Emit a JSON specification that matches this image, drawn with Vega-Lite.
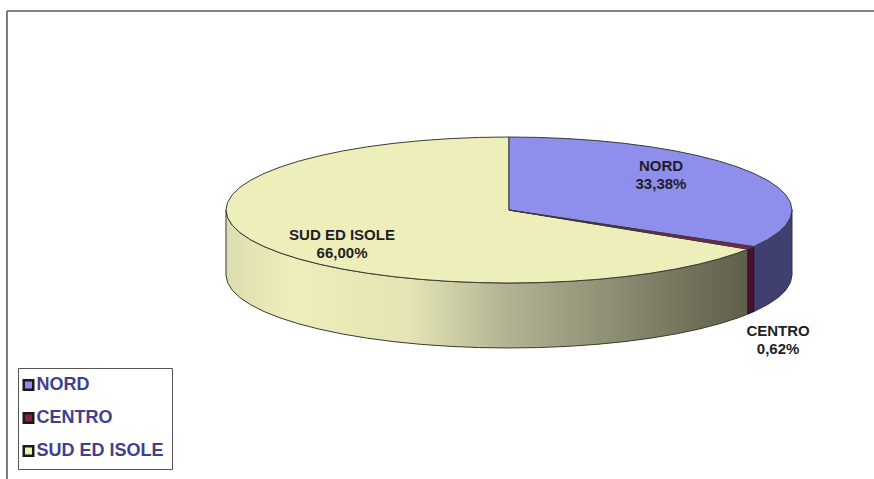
{
"$schema":"https://vega.github.io/schema/vega-lite/v6.json",
"width":874,"height":479,"padding":0,"autosize":{"type":"none"},
"background":"white",
"config":{"view":{"stroke":null}},
"datasets":{
"frame":[{"x":-1.774,"x2":1.29,"y":2.726,"y2":2.726},{"x":-1.774,"x2":-1.774,"y":2.726,"y2":-3.685}],
"walls":[
{"part":"NORD","x":1,"y":0,"y2":-0.89},{"part":"NORD","x":0.9945,"y":-0.1045,"y2":-0.9945},{"part":"NORD","x":0.9781,"y":-0.2079,"y2":-1.0979},{"part":"NORD","x":0.9511,"y":-0.309,"y2":-1.199},{"part":"NORD","x":0.9135,"y":-0.4067,"y2":-1.2967},{"part":"NORD","x":0.866,"y":-0.5,"y2":-1.39},{"part":"NORD","x":0.8645,"y":-0.5025,"y2":-1.3925},
{"part":"CENTRO","x":0.8645,"y":-0.5025,"y2":-1.3925},{"part":"CENTRO","x":0.8443,"y":-0.5358,"y2":-1.4258},
{"part":"SUD","x":0.8443,"y":-0.5358,"y2":-1.4258},{"part":"SUD","x":0.809,"y":-0.5878,"y2":-1.4778},{"part":"SUD","x":0.7431,"y":-0.6691,"y2":-1.5591},{"part":"SUD","x":0.6691,"y":-0.7431,"y2":-1.6331},{"part":"SUD","x":0.5878,"y":-0.809,"y2":-1.699},{"part":"SUD","x":0.5,"y":-0.866,"y2":-1.756},{"part":"SUD","x":0.4067,"y":-0.9135,"y2":-1.8035},{"part":"SUD","x":0.309,"y":-0.9511,"y2":-1.8411},{"part":"SUD","x":0.2079,"y":-0.9781,"y2":-1.8681},{"part":"SUD","x":0.1045,"y":-0.9945,"y2":-1.8845},{"part":"SUD","x":0,"y":-1,"y2":-1.89},{"part":"SUD","x":-0.1045,"y":-0.9945,"y2":-1.8845},{"part":"SUD","x":-0.2079,"y":-0.9781,"y2":-1.8681},{"part":"SUD","x":-0.309,"y":-0.9511,"y2":-1.8411},{"part":"SUD","x":-0.4067,"y":-0.9135,"y2":-1.8035},{"part":"SUD","x":-0.5,"y":-0.866,"y2":-1.756},{"part":"SUD","x":-0.5878,"y":-0.809,"y2":-1.699},{"part":"SUD","x":-0.6691,"y":-0.7431,"y2":-1.6331},{"part":"SUD","x":-0.7431,"y":-0.6691,"y2":-1.5591},{"part":"SUD","x":-0.809,"y":-0.5878,"y2":-1.4778},{"part":"SUD","x":-0.866,"y":-0.5,"y2":-1.39},{"part":"SUD","x":-0.9135,"y":-0.4067,"y2":-1.2967},{"part":"SUD","x":-0.9511,"y":-0.309,"y2":-1.199},{"part":"SUD","x":-0.9781,"y":-0.2079,"y2":-1.0979},{"part":"SUD","x":-0.9945,"y":-0.1045,"y2":-0.9945},{"part":"SUD","x":-1,"y":0,"y2":-0.89}
],
"faces":[
{"name":"SUD ED ISOLE","i":0,"x":0,"y":0},{"name":"SUD ED ISOLE","i":1,"x":0.8443,"y":-0.5358},{"name":"SUD ED ISOLE","i":2,"x":0.809,"y":-0.5878},{"name":"SUD ED ISOLE","i":3,"x":0.7431,"y":-0.6691},{"name":"SUD ED ISOLE","i":4,"x":0.6691,"y":-0.7431},{"name":"SUD ED ISOLE","i":5,"x":0.5878,"y":-0.809},{"name":"SUD ED ISOLE","i":6,"x":0.5,"y":-0.866},{"name":"SUD ED ISOLE","i":7,"x":0.4067,"y":-0.9135},{"name":"SUD ED ISOLE","i":8,"x":0.309,"y":-0.9511},{"name":"SUD ED ISOLE","i":9,"x":0.2079,"y":-0.9781},{"name":"SUD ED ISOLE","i":10,"x":0.1045,"y":-0.9945},{"name":"SUD ED ISOLE","i":11,"x":0,"y":-1},{"name":"SUD ED ISOLE","i":12,"x":-0.1045,"y":-0.9945},{"name":"SUD ED ISOLE","i":13,"x":-0.2079,"y":-0.9781},{"name":"SUD ED ISOLE","i":14,"x":-0.309,"y":-0.9511},{"name":"SUD ED ISOLE","i":15,"x":-0.4067,"y":-0.9135},{"name":"SUD ED ISOLE","i":16,"x":-0.5,"y":-0.866},{"name":"SUD ED ISOLE","i":17,"x":-0.5878,"y":-0.809},{"name":"SUD ED ISOLE","i":18,"x":-0.6691,"y":-0.7431},{"name":"SUD ED ISOLE","i":19,"x":-0.7431,"y":-0.6691},{"name":"SUD ED ISOLE","i":20,"x":-0.809,"y":-0.5878},{"name":"SUD ED ISOLE","i":21,"x":-0.866,"y":-0.5},{"name":"SUD ED ISOLE","i":22,"x":-0.9135,"y":-0.4067},{"name":"SUD ED ISOLE","i":23,"x":-0.9511,"y":-0.309},{"name":"SUD ED ISOLE","i":24,"x":-0.9781,"y":-0.2079},{"name":"SUD ED ISOLE","i":25,"x":-0.9945,"y":-0.1045},{"name":"SUD ED ISOLE","i":26,"x":-1,"y":0},{"name":"SUD ED ISOLE","i":27,"x":-0.9945,"y":0.1045},{"name":"SUD ED ISOLE","i":28,"x":-0.9781,"y":0.2079},{"name":"SUD ED ISOLE","i":29,"x":-0.9511,"y":0.309},{"name":"SUD ED ISOLE","i":30,"x":-0.9135,"y":0.4067},{"name":"SUD ED ISOLE","i":31,"x":-0.866,"y":0.5},{"name":"SUD ED ISOLE","i":32,"x":-0.809,"y":0.5878},{"name":"SUD ED ISOLE","i":33,"x":-0.7431,"y":0.6691},{"name":"SUD ED ISOLE","i":34,"x":-0.6691,"y":0.7431},{"name":"SUD ED ISOLE","i":35,"x":-0.5878,"y":0.809},{"name":"SUD ED ISOLE","i":36,"x":-0.5,"y":0.866},{"name":"SUD ED ISOLE","i":37,"x":-0.4067,"y":0.9135},{"name":"SUD ED ISOLE","i":38,"x":-0.309,"y":0.9511},{"name":"SUD ED ISOLE","i":39,"x":-0.2079,"y":0.9781},{"name":"SUD ED ISOLE","i":40,"x":-0.1045,"y":0.9945},{"name":"SUD ED ISOLE","i":41,"x":0,"y":1},{"name":"SUD ED ISOLE","i":42,"x":0,"y":0},
{"name":"NORD","i":0,"x":0,"y":0},{"name":"NORD","i":1,"x":0,"y":1},{"name":"NORD","i":2,"x":0.1045,"y":0.9945},{"name":"NORD","i":3,"x":0.2079,"y":0.9781},{"name":"NORD","i":4,"x":0.309,"y":0.9511},{"name":"NORD","i":5,"x":0.4067,"y":0.9135},{"name":"NORD","i":6,"x":0.5,"y":0.866},{"name":"NORD","i":7,"x":0.5878,"y":0.809},{"name":"NORD","i":8,"x":0.6691,"y":0.7431},{"name":"NORD","i":9,"x":0.7431,"y":0.6691},{"name":"NORD","i":10,"x":0.809,"y":0.5878},{"name":"NORD","i":11,"x":0.866,"y":0.5},{"name":"NORD","i":12,"x":0.9135,"y":0.4067},{"name":"NORD","i":13,"x":0.9511,"y":0.309},{"name":"NORD","i":14,"x":0.9781,"y":0.2079},{"name":"NORD","i":15,"x":0.9945,"y":0.1045},{"name":"NORD","i":16,"x":1,"y":0},{"name":"NORD","i":17,"x":0.9945,"y":-0.1045},{"name":"NORD","i":18,"x":0.9781,"y":-0.2079},{"name":"NORD","i":19,"x":0.9511,"y":-0.309},{"name":"NORD","i":20,"x":0.9135,"y":-0.4067},{"name":"NORD","i":21,"x":0.866,"y":-0.5},{"name":"NORD","i":22,"x":0.8645,"y":-0.5025},{"name":"NORD","i":23,"x":0,"y":0},
{"name":"CENTRO","i":0,"x":0,"y":0},{"name":"CENTRO","i":1,"x":0.8645,"y":-0.5025},{"name":"CENTRO","i":2,"x":0.8443,"y":-0.5358},{"name":"CENTRO","i":3,"x":0,"y":0}
],
"labels":[
{"text":"NORD\n33,38%","x":0.537,"y":0.603},
{"text":"CENTRO\n0,62%","x":0.951,"y":-1.657},
{"text":"SUD ED ISOLE\n66,00%","x":-0.59,"y":-0.342}
]},
"encoding":{
"x":{"field":"x","type":"quantitative","axis":null,"scale":{"domain":[-1.7986,1.2898],"nice":false,"zero":false}},
"y":{"field":"y","type":"quantitative","axis":null,"stack":null,"scale":{"domain":[-3.685,2.877],"nice":false,"zero":false}}
},
"layer":[
{"data":{"name":"frame"},"mark":{"type":"rule","color":"#5a5a5a","strokeWidth":1.6},"encoding":{"x2":{"field":"x2"},"y2":{"field":"y2"}}},
{"data":{"name":"walls"},"transform":[{"filter":"datum.part==='SUD'"}],"mark":{"type":"area","stroke":"#3a3a30","strokeWidth":1,"fill":{"gradient":"linear","x1":0,"y1":0,"x2":1,"y2":0,"stops":[{"offset":0,"color":"#dcdcb0"},{"offset":0.12,"color":"#eeeebb"},{"offset":0.35,"color":"#e4e4b4"},{"offset":0.55,"color":"#b0b092"},{"offset":0.75,"color":"#8c8c72"},{"offset":1,"color":"#5e5e4a"}]}},"encoding":{"y2":{"field":"y2"}}},
{"data":{"name":"walls"},"transform":[{"filter":"datum.part==='NORD'"}],"mark":{"type":"area","stroke":"#30304a","strokeWidth":1,"fill":"#3f3f70"},"encoding":{"y2":{"field":"y2"}}},
{"data":{"name":"walls"},"transform":[{"filter":"datum.part==='CENTRO'"}],"mark":{"type":"area","stroke":"#2a1020","strokeWidth":1,"fill":"#4a1030"},"encoding":{"y2":{"field":"y2"}}},
{"data":{"name":"faces"},"mark":{"type":"line","stroke":"#3a3a3a","strokeWidth":1,"strokeJoin":"round"},"encoding":{
"order":{"field":"i","type":"quantitative"},
"detail":{"field":"name"},
"fill":{"field":"name","type":"nominal","scale":{"domain":["NORD","CENTRO","SUD ED ISOLE"],"range":["#8e8eec","#80204c","#eeeebb"]},
"legend":{"title":null,"orient":"none","legendX":18,"legendY":368,"symbolType":"square","symbolSize":90,"symbolOffset":-6.5,"symbolStrokeColor":"#1a1a1a","symbolStrokeWidth":2.5,"labelFont":"Liberation Sans","labelFontSize":18,"labelFontWeight":"bold","labelColor":"#3f3f8f","labelOffset":-1,"rowPadding":13,"padding":8,"fillColor":"white","strokeColor":"#555555","values":["NORD","CENTRO","SUD ED ISOLE"]}}
}},
{"data":{"name":"labels"},"mark":{"type":"text","lineBreak":"\n","font":"Liberation Sans","fontSize":15,"fontWeight":"bold","lineHeight":18,"color":"#1e1e28","align":"center","baseline":"middle"},"encoding":{"text":{"field":"text"}}}
]
}
